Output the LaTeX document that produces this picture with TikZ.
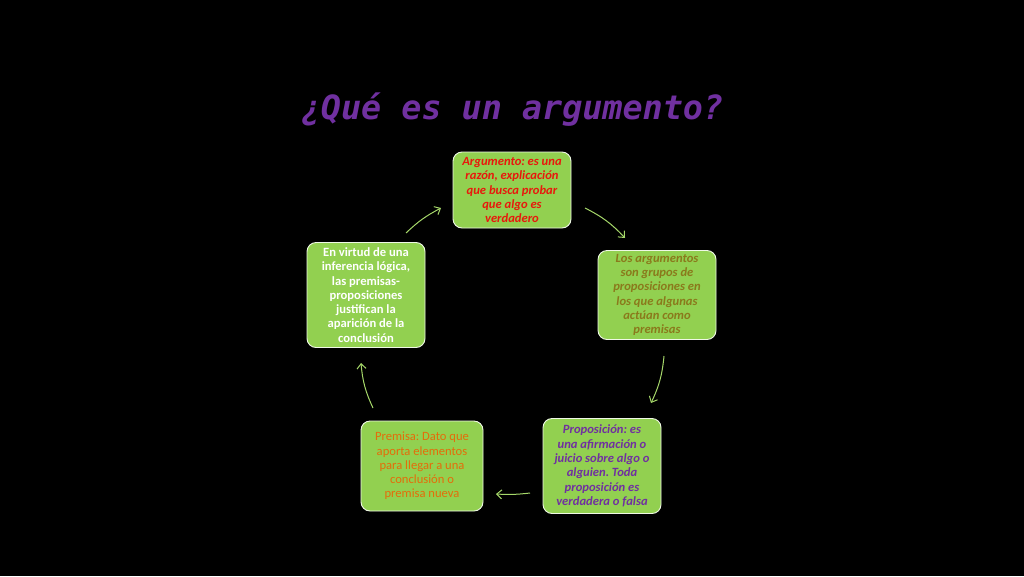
\documentclass[tikz,border=0pt]{standalone}
\usepackage{fontspec}
\setmainfont{Carlito}
\newfontfamily\titlefont{DejaVu Sans Mono}
\usetikzlibrary{arrows.meta}
\definecolor{boxgreen}{HTML}{92D050}
\definecolor{txtred}{HTML}{E8180C}
\definecolor{txtolive}{HTML}{8A7A1C}
\definecolor{txtpurple}{HTML}{7030A0}
\definecolor{txtorange}{HTML}{E46C0A}
\definecolor{arrowgreen}{HTML}{A6D86A}
\frenchspacing
\begin{document}
\begin{tikzpicture}[x=1pt,y=-1pt,
  cyclebox/.style={draw=white!85!boxgreen, line width=0.9pt, fill=boxgreen,
    rounded corners=9pt, minimum width=118pt, align=center,
    inner sep=2pt, font=\fontsize{12.6}{14.3}\selectfont},
  bolditalic/.style={font=\fontsize{12.6}{14.3}\selectfont\bfseries\itshape},
  boldup/.style={font=\fontsize{12.6}{14.3}\selectfont\bfseries},
  cyclearrow/.style={draw=arrowgreen, line width=1pt,
    -{Straight Barb[length=5pt,width=9pt]}}]
\fill[black] (0,0) rectangle (1024,576);
\useasboundingbox (0,0) rectangle (1024,576);
\node[text=txtpurple, font=\titlefont\bfseries\itshape\fontsize{33.4}{36}\selectfont] (title) at (512,110) {¿Qué es un argumento?};
\node[cyclebox, bolditalic, text=txtred, minimum height=76pt] (top) at (512,190)
  {Argumento: es una\\razón, explicación\\que busca probar\\que algo es\\verdadero};
\node[cyclebox, bolditalic, text=txtolive, minimum height=89pt] (right) at (657,295)
  {Los argumentos\\son grupos de\\proposiciones en\\los que algunas\\actúan como\\premisas};
\node[cyclebox, bolditalic, text=txtpurple, minimum height=95pt] (bright) at (602,466)
  {Proposición: es\\una afirmación o\\juicio sobre algo o\\alguien. Toda\\proposición es\\verdadera o falsa};
\node[cyclebox, text=txtorange, minimum width=122pt, minimum height=90pt] (bleft) at (422,466)
  {Premisa: Dato que\\aporta elementos\\para llegar a una\\conclusión o\\premisa nueva};
\node[cyclebox, boldup, text=white, minimum height=105pt] (left) at (366,295)
  {En virtud de una\\inferencia lógica,\\las premisas-\\proposiciones\\justifican la\\aparición de la\\conclusión};
\coordinate (a1s) at (585,208); \coordinate (a1e) at (625,238);
\coordinate (a2s) at (664,356); \coordinate (a2e) at (651,403);
\coordinate (a3s) at (530,493); \coordinate (a3e) at (496,494);
\coordinate (a4s) at (373,408); \coordinate (a4e) at (361,363);
\coordinate (a5s) at (406,233); \coordinate (a5e) at (441,208);
\draw[cyclearrow] (a1s) to[bend left=10] (a1e);
\draw[cyclearrow] (a2s) to[bend left=10] (a2e);
\draw[cyclearrow] (a3s) to[bend left=5] (a3e);
\draw[cyclearrow] (a4s) to[bend left=10] (a4e);
\draw[cyclearrow] (a5s) to[bend left=8] (a5e);
\end{tikzpicture}
\end{document}
